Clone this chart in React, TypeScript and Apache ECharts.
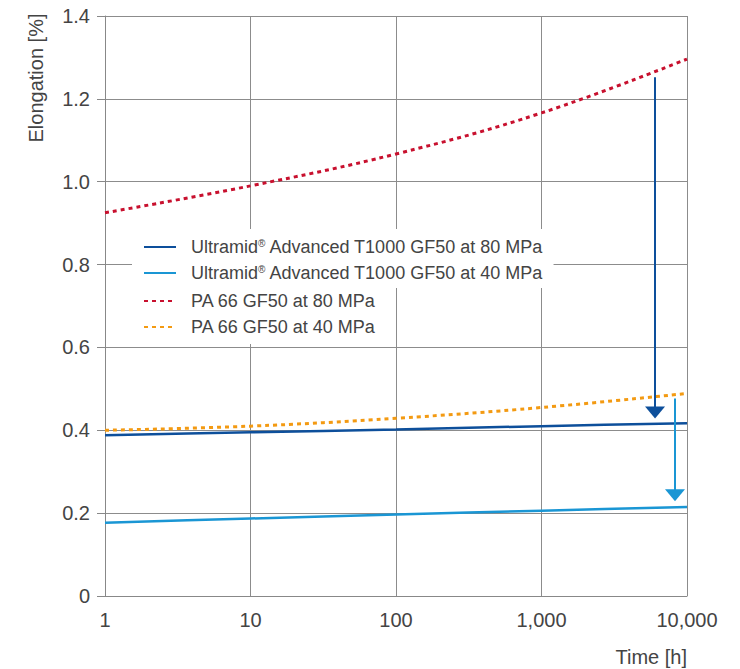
import React, { useEffect, useRef } from "react";
import * as echarts from "echarts";

const times = [1, 10, 100, 1000, 10000];
const ultra80 = [0.388, 0.395, 0.402, 0.41, 0.417];
const ultra40 = [0.177, 0.187, 0.197, 0.206, 0.215];
const pa80 = [0.925, 0.99, 1.067, 1.166, 1.296];
const pa40 = [0.4, 0.41, 0.429, 0.455, 0.489];
const yTicks = [0, 0.2, 0.4, 0.6, 0.8, 1.0, 1.2, 1.4];
const names = [
  "Ultramid® Advanced T1000 GF50 at 80 MPa",
  "Ultramid® Advanced T1000 GF50 at 40 MPa",
  "PA 66 GF50 at 80 MPa",
  "PA 66 GF50 at 40 MPa",
];
// arrows: [x, yStart, yEnd]
const arrow80 = [6030, 1.252, 0.443];
const arrow40 = [8270, 0.477, 0.243];

const C_DARK = "#0d4f9b";
const C_LIGHT = "#1a96d4";
const C_RED = "#c8102e";
const C_ORANGE = "#f39a12";
const FONT = "Liberation Sans";
const TXT = "#444444";

function pairs(vals: number[]) {
  return times.map((t, i) => [t, vals[i]]);
}

export default function App() {
  const ref = useRef<HTMLDivElement>(null);
  useEffect(() => {
    if (!ref.current) return;
    const chart = echarts.init(ref.current, null, { renderer: "svg" });
    const legendText = {
      fontFamily: FONT,
      fontSize: 18,
      lineHeight: 18,
      color: TXT,
      padding: [0, 0, 0, 10],
      rich: { sup: { fontSize: 10, lineHeight: 18, verticalAlign: "top", color: TXT, fontFamily: FONT, padding: [0, 0, 6, 0] } },
    };
    const fmt = (n: string) => n.replace("®", "{sup|®}");
    const mkArrow = (a: number[], color: string) => ({
      silent: true,
      symbol: ["none", "triangle"],
      symbolSize: [20, 12],
      label: { show: false },
      lineStyle: { color, width: 2, type: "solid" },
      emphasis: { disabled: true },
      data: [[{ coord: [a[0], a[1]] }, { coord: [a[0], a[2]] }]],
    });
    const legendBase = {
      orient: "vertical",
      left: 132,
      itemGap: 8,
      itemWidth: 32,
      itemHeight: 14,
      backgroundColor: "#ffffff",
      textStyle: legendText,
      formatter: fmt,
      selectedMode: false,
      itemStyle: { opacity: 0 },
    };
    chart.setOption({
      animation: false,
      grid: { left: 105, right: 53, top: 16, bottom: 73, containLabel: false },
      xAxis: {
        type: "log",
        logBase: 10,
        min: 1,
        max: 10000,
        axisLine: { show: true, lineStyle: { color: "#888", width: 1 } },
        axisTick: { show: false },
        splitLine: { show: true, lineStyle: { color: "#8c8c8c", width: 1 } },
        minorSplitLine: { show: false },
        axisLabel: {
          fontFamily: FONT,
          fontSize: 20,
          color: TXT,
          margin: 14,
          formatter: (v: number) => Math.round(v).toLocaleString("en-US"),
        },
      },
      yAxis: {
        type: "value",
        min: 0,
        max: 1.4,
        interval: 0.2,
        axisLine: { show: true, lineStyle: { color: "#888", width: 1 } },
        axisTick: { show: true, length: 8, lineStyle: { color: "#888" } },
        splitLine: { show: true, lineStyle: { color: "#8c8c8c", width: 1 } },
        axisLabel: {
          fontFamily: FONT,
          fontSize: 20,
          color: TXT,
          margin: 15,
          formatter: (v: number) => {
            const t = yTicks.find((y) => Math.abs(y - v) < 1e-6);
            return t === 0 ? "0" : (t ?? v).toFixed(1);
          },
        },
      },
      legend: [
        { ...legendBase, data: [names[0], names[1]], top: 229, padding: [9, 10, 6, 11] },
        { ...legendBase, data: [names[2], names[3]], top: 288, padding: [4, 10, 8, 11] },
      ],
      series: [
        {
          name: names[0],
          type: "line",
          data: pairs(ultra80),
          symbol: "circle",
          showSymbol: false,
          smooth: 0.3,
          lineStyle: { color: C_DARK, width: 2.5 },
          itemStyle: { color: C_DARK },
          markLine: mkArrow(arrow80, C_DARK),
          z: 3,
        },
        {
          name: names[1],
          type: "line",
          data: pairs(ultra40),
          symbol: "circle",
          showSymbol: false,
          smooth: 0.3,
          lineStyle: { color: C_LIGHT, width: 2.5 },
          itemStyle: { color: C_LIGHT },
          markLine: mkArrow(arrow40, C_LIGHT),
          z: 3,
        },
        {
          name: names[2],
          type: "line",
          data: pairs(pa80),
          symbol: "circle",
          showSymbol: false,
          smooth: 0.4,
          lineStyle: { color: C_RED, width: 3, type: [4, 4] },
          itemStyle: { color: C_RED },
          z: 2,
        },
        {
          name: names[3],
          type: "line",
          data: pairs(pa40),
          symbol: "circle",
          showSymbol: false,
          smooth: 0.4,
          lineStyle: { color: C_ORANGE, width: 3, type: [4, 4] },
          itemStyle: { color: C_ORANGE },
          z: 2,
        },
      ],
      graphic: [
        {
          type: "text",
          x: 36,
          y: 78,
          rotation: Math.PI / 2,
          style: {
            text: "Elongation [%]",
            fontFamily: FONT,
            fontSize: 20,
            fill: TXT,
            align: "center",
            verticalAlign: "middle",
          },
        },
        {
          type: "text",
          x: 687,
          y: 657,
          style: {
            text: "Time [h]",
            fontFamily: FONT,
            fontSize: 20,
            fill: TXT,
            align: "right",
            verticalAlign: "middle",
          },
        },
      ],
    });
    return () => chart.dispose();
  }, []);
  return <div ref={ref} style={{ width: 740, height: 669, position: "absolute", left: 0, top: 0 }} />;
}
